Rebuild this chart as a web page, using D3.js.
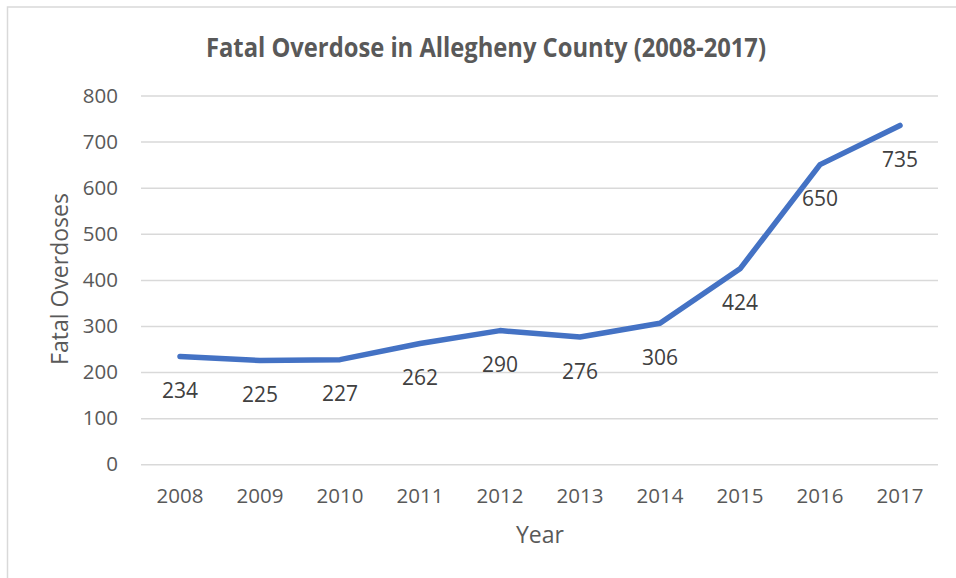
<!DOCTYPE html>
<html>
<head>
<meta charset="utf-8">
<script src="https://cdn.jsdelivr.net/npm/d3@7"></script>
<style>
	html, body { margin: 0; padding: 0; background: #fff; }
	svg { display: block; }
</style>
</head>
<body>
<div id="chart"></div>
<script>
"use strict";

// values
var years = ["2008", "2009", "2010", "2011", "2012", "2013", "2014", "2015", "2016", "2017"];
var deaths = [234, 225, 227, 262, 290, 276, 306, 424, 650, 735];
var yTicks = [0, 100, 200, 300, 400, 500, 600, 700, 800];

var W = 956, H = 578;
var plot = {left: 140, right: 940, top: 95.5, bottom: 464.3};

var svg = d3.select("#chart").append("svg")
	.attr("width", W)
	.attr("height", H);

//	chart frame (only top and left edges are in view)
svg.append("rect")
	.attr("x", 7.5).attr("y", 7)
	.attr("width", W + 20).attr("height", H + 20)
	.attr("fill", "#fff")
	.attr("stroke", "#d9d9d9")
	.attr("stroke-width", 1.5);

var x = d3.scaleBand().domain(years).range([plot.left, plot.right]);
var y = d3.scaleLinear().domain([0, 800]).range([plot.bottom, plot.top]);

//	gridlines + y tick labels
var yAxis = d3.axisLeft(y)
	.tickValues(yTicks)
	.tickSize(-(plot.right - plot.left))
	.tickPadding(22);

var gy = svg.append("g")
	.attr("transform", "translate(" + plot.left + ",0)")
	.call(yAxis);
gy.select(".domain").remove();
gy.selectAll(".tick line").attr("stroke", "#d9d9d9").attr("stroke-width", 1.5)
	.attr("x1", 1).attr("x2", plot.right - plot.left - 2);
gy.selectAll(".tick text")
	.attr("fill", "#595959")
	.style("font-family", "'Open Sans', sans-serif")
	.style("font-size", "20.5px");

//	x tick labels
var xAxis = d3.axisBottom(x).tickSize(0).tickPadding(0);
var gx = svg.append("g")
	.attr("transform", "translate(0," + plot.bottom + ")")
	.call(xAxis);
gx.select(".domain").remove();
gx.selectAll(".tick text")
	.attr("dy", null)
	.attr("y", 38.5)
	.attr("fill", "#595959")
	.style("font-family", "'Open Sans', sans-serif")
	.style("font-size", "20.5px");

//	the series line
var line = d3.line()
	.x(function(d, i){ return x(years[i]) + x.bandwidth() / 2; })
	.y(function(d){ return y(d); });

svg.append("path")
	.datum(deaths)
	.attr("d", line)
	.attr("fill", "none")
	.attr("stroke", "#4472c4")
	.attr("stroke-width", 5.5)
	.attr("stroke-linecap", "round")
	.attr("stroke-linejoin", "round");

//	data labels, placed below each point
svg.append("g").selectAll("text")
	.data(deaths)
	.join("text")
	.attr("x", function(d, i){ return x(years[i]) + x.bandwidth() / 2; })
	.attr("y", function(d){ return y(d) + 41.5; })
	.attr("text-anchor", "middle")
	.attr("fill", "#404040")
	.style("font-family", "'Open Sans', sans-serif")
	.style("font-size", "21px")
	.text(function(d){ return d; });

//	title
svg.append("text")
	.attr("x", 486)
	.attr("y", 57)
	.attr("text-anchor", "middle")
	.attr("fill", "#595959")
	.attr("textLength", 560)
	.attr("lengthAdjust", "spacingAndGlyphs")
	.style("font-family", "'Liberation Sans Narrow', 'Open Sans', sans-serif")
	.style("font-weight", "bold")
	.style("font-size", "26.5px")
	.text("Fatal Overdose in Allegheny County (2008-2017)");

//	axis titles
svg.append("text")
	.attr("transform", "translate(67.5,279) rotate(-90)")
	.attr("text-anchor", "middle")
	.attr("fill", "#595959")
	.style("font-family", "'Open Sans', sans-serif")
	.style("font-size", "23px")
	.text("Fatal Overdoses");

svg.append("text")
	.attr("x", (plot.left + plot.right) / 2)
	.attr("y", 542.7)
	.attr("text-anchor", "middle")
	.attr("fill", "#595959")
	.style("font-family", "'Open Sans', sans-serif")
	.style("font-size", "23px")
	.text("Year");
</script>
</body>
</html>
